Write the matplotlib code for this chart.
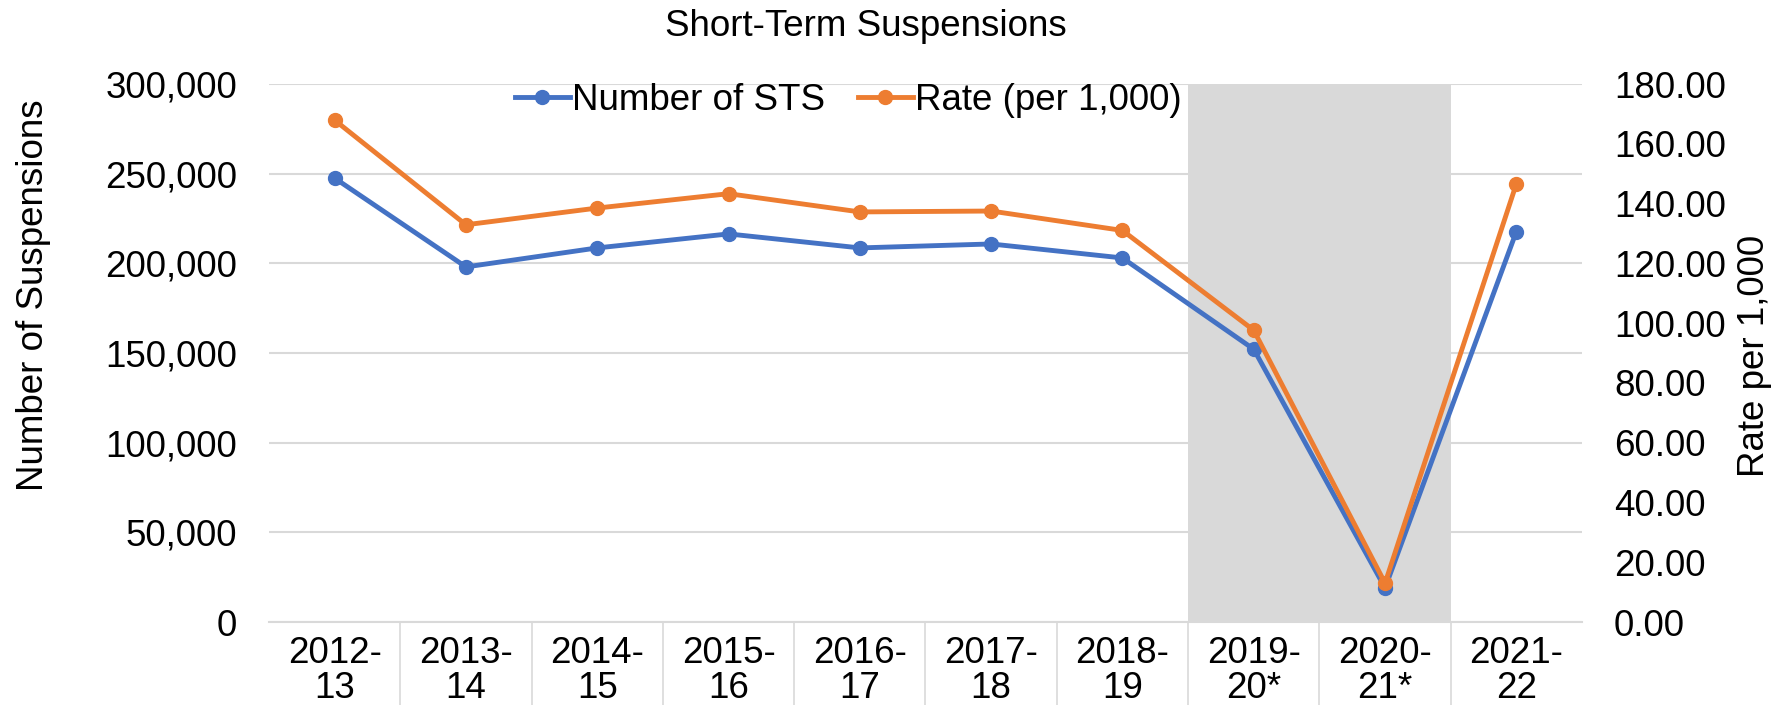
import numpy as np
import matplotlib
matplotlib.use('Agg')
import matplotlib.pyplot as plt
from matplotlib.ticker import FuncFormatter, FixedLocator

plt.rcParams['font.family'] = ['Liberation Sans', 'DejaVu Sans']

#chart data
years = ['2012-\n13', '2013-\n14', '2014-\n15', '2015-\n16', '2016-\n17',
         '2017-\n18', '2018-\n19', '2019-\n20*', '2020-\n21*', '2021-\n22']
sts_count = [247500, 198000, 208600, 216400, 208600, 210800, 203000, 152100, 19000, 217700]
sts_rate = [167.9, 132.9, 138.5, 143.3, 137.2, 137.5, 131.0, 97.6, 13.0, 146.6]
covid_years = ['2019-\n20*', '2020-\n21*']

blue = '#4472C4'
orange = '#ED7D31'
grey = '#D9D9D9'
fs = 26.5

fig = plt.figure(figsize=(17.77, 7.05), dpi=100)
ax = fig.add_axes([269/1777, 1 - 622/705, (1582-269)/1777, (622-84)/705])
ax2 = ax.twinx()

x = np.arange(len(years))

#shaded covid years
i0 = years.index(covid_years[0])
i1 = years.index(covid_years[-1])
ax.axvspan(i0 - 0.5, i1 + 0.5, color=grey, zorder=1, lw=0)

l1, = ax.plot(x, sts_count, color=blue, lw=3.5, marker='o', ms=10, zorder=3,
              label='Number of STS')
l2, = ax2.plot(x, sts_rate, color=orange, lw=3.5, marker='o', ms=10, zorder=3,
               label='Rate (per 1,000)')

ax.set_xlim(-0.5, len(years) - 0.5)
ax.set_ylim(0, 300000)
ax2.set_ylim(0, 180)
ax.set_yticks(np.arange(0, 300001, 50000))
ax2.set_yticks(np.arange(0, 181, 20))
ax.yaxis.set_major_formatter(FuncFormatter(lambda v, p: '{:,.0f}'.format(v)))
ax2.yaxis.set_major_formatter(FuncFormatter(lambda v, p: '{:.2f}'.format(v)))

ax.set_axisbelow(True)
ax.grid(axis='y', color=grey, lw=1.5)

for a in (ax, ax2):
    for s in a.spines.values():
        s.set_visible(False)
ax.spines['bottom'].set_visible(True)
ax.spines['bottom'].set_color(grey)
ax.spines['bottom'].set_linewidth(1.5)

ax.set_xticks(x)
ax.set_xticklabels(years, linespacing=1.0)
ax.xaxis.set_minor_locator(FixedLocator(np.arange(0.5, len(years) - 1, 1)))
ax.tick_params(axis='x', which='major', length=0, pad=10, labelsize=fs)
ax.tick_params(axis='x', which='minor', length=60, width=1.2, color=grey)
ax.tick_params(axis='y', length=0, pad=23, labelsize=fs)
ax2.tick_params(axis='y', length=0, pad=23, labelsize=fs)

fig.text(866/1777, 1 - 27/705, 'Short-Term Suspensions', fontsize=fs,
         ha='center', va='center')
fig.text(34/1777, 1 - 295/705, 'Number of Suspensions', fontsize=fs,
         rotation=90, ha='center', va='center')
fig.text(1755/1777, 1 - 356/705, 'Rate per 1,000', fontsize=fs,
         rotation=90, ha='center', va='center')

fig.legend(handles=[l1, l2], loc='center', bbox_to_anchor=(848/1777, 1 - 100/705),
           ncol=2, frameon=False, fontsize=fs, handlelength=1.5,
           handletextpad=0.05, columnspacing=0.9, borderpad=0, borderaxespad=0)

fig.savefig('out.png', dpi=100)
